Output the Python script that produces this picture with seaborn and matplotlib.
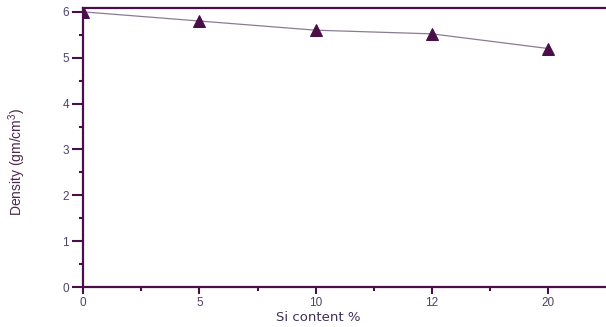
import matplotlib
matplotlib.use("Agg")
import matplotlib.pyplot as plt
from matplotlib.ticker import MultipleLocator
import seaborn as sns
import pandas as pd

# Density of the composite against silicon content
si_content = ["0", "5", "10", "12", "20"]
density = [6.0, 5.8, 5.6, 5.52, 5.2]

sns.set_theme(style="white")
plt.rcParams["font.family"] = ["Liberation Sans", "DejaVu Sans"]
plt.rcParams["mathtext.fontset"] = "custom"
plt.rcParams["mathtext.rm"] = "Liberation Sans"
plt.rcParams["mathtext.default"] = "regular"

axis_col = "#4a0f48"
tick_col = "#4e4266"

df = pd.DataFrame({"pos": range(len(si_content)), "density": density})

fig = plt.figure(figsize=(6.06, 3.27), dpi=100)
ax = fig.add_axes([0.137, 0.122, 0.862, 0.853])

sns.lineplot(data=df, x="pos", y="density", ax=ax, color="#8a7c90", lw=0.9,
             marker="^", markersize=9, markerfacecolor=axis_col,
             markeredgecolor=axis_col)
for ln in ax.lines:
    ln.set_clip_on(True)
    ln.set_clip_box(ax.bbox)

ax.set_xlim(0, 4.49)
ax.set_ylim(0, 6.08)
ax.set_xticks(range(len(si_content)))
ax.set_xticklabels(si_content)
ax.xaxis.set_minor_locator(MultipleLocator(0.5))
ax.yaxis.set_major_locator(MultipleLocator(1))
ax.yaxis.set_minor_locator(MultipleLocator(0.5))

ax.tick_params(axis="both", which="major", direction="out", length=5, width=1.5,
               color=axis_col, labelcolor=tick_col, labelsize=8.5, pad=2,
               bottom=True, left=True)
ax.tick_params(axis="y", which="major", length=8)
ax.tick_params(axis="both", which="minor", direction="out", length=3, width=1.5,
               color=axis_col, bottom=True, left=True)

for side in ["left", "bottom", "top"]:
    ax.spines[side].set_color(axis_col)
    ax.spines[side].set_linewidth(1.6)
ax.spines["right"].set_visible(False)

ax.set_xlabel("Si content %", color="#3f2f55", fontsize=9.5, family="DejaVu Sans")
ax.xaxis.set_label_coords(0.45, -0.085)
ax.set_ylabel(r"Density (gm/cm$^{\mathregular{3}}$)", color="#4a2a4a", fontsize=10)
ax.yaxis.set_label_coords(-0.105, 0.45)

fig.savefig("out.png", dpi=100)
